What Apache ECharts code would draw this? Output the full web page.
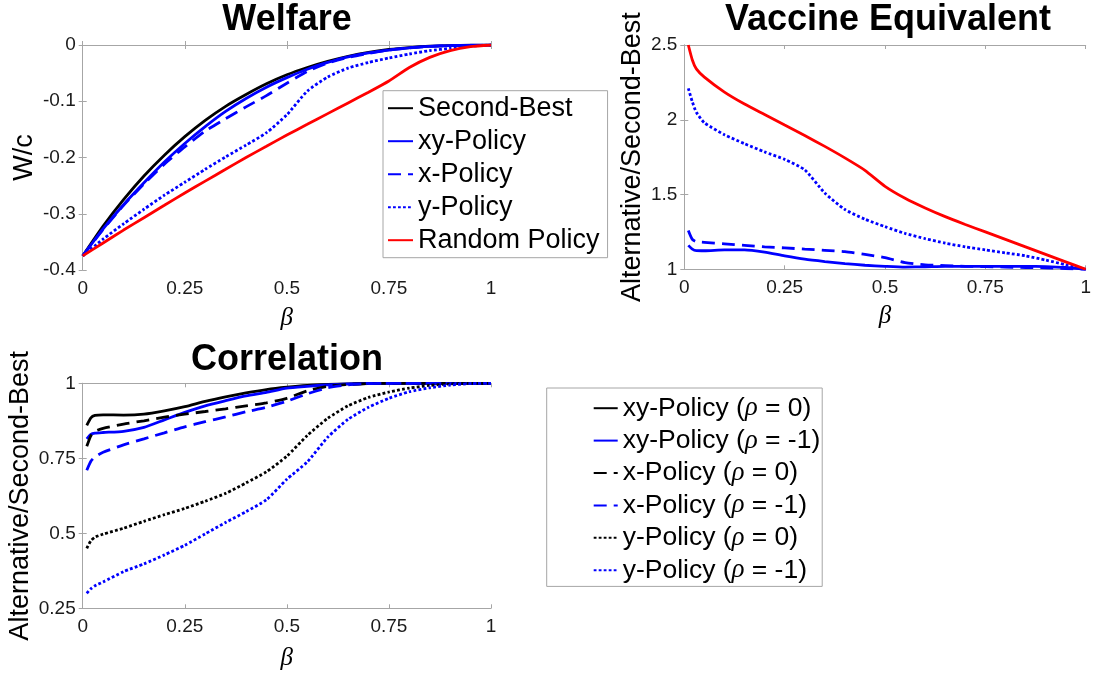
<!DOCTYPE html>
<html>
<head>
<meta charset="utf-8">
<script src="https://cdn.jsdelivr.net/npm/echarts@6/dist/echarts.min.js"></script>
<style>
html,body{margin:0;padding:0;background:#fff;}
#chart{width:1094px;height:675px;}
</style>
</head>
<body>
<div id="chart"></div>
<script>
// ---------- data ----------
const betaW = [0,0.05,0.1,0.15,0.2,0.25,0.3,0.35,0.4,0.45,0.5,0.55,0.6,0.65,0.7,0.75,0.8,0.85,0.9,0.95,1];
const welfareSecondBest = [-0.375,-0.322,-0.275,-0.233,-0.196,-0.163,-0.134,-0.109,-0.088,-0.069,-0.053,-0.040,-0.029,-0.020,-0.013,-0.008,-0.0045,-0.002,-0.001,-0.0002,0];
const welfareXY = [-0.375,-0.327,-0.284,-0.245,-0.208,-0.175,-0.145,-0.118,-0.095,-0.075,-0.058,-0.043,-0.031,-0.021,-0.014,-0.009,-0.005,-0.0025,-0.001,-0.0003,0];
const welfareX = [-0.375,-0.328,-0.285,-0.247,-0.212,-0.181,-0.153,-0.131,-0.110,-0.090,-0.068,-0.047,-0.032,-0.022,-0.015,-0.009,-0.005,-0.0025,-0.001,-0.0003,0];
const welfareY = [-0.375,-0.345,-0.318,-0.292,-0.267,-0.244,-0.221,-0.199,-0.178,-0.156,-0.124,-0.082,-0.057,-0.041,-0.031,-0.023,-0.016,-0.010,-0.006,-0.002,0];
const welfareRandom = [-0.375,-0.352,-0.329,-0.307,-0.285,-0.263,-0.242,-0.221,-0.200,-0.180,-0.160,-0.141,-0.122,-0.103,-0.084,-0.064,-0.040,-0.022,-0.010,-0.003,0];

const betaV = [0.01,0.02,0.03,0.05,0.1,0.15,0.2,0.25,0.3,0.35,0.4,0.45,0.5,0.55,0.6,0.65,0.7,0.75,0.8,0.85,0.9,0.95,1];
const vacXY = [1.16,1.135,1.125,1.124,1.13,1.13,1.115,1.09,1.068,1.052,1.038,1.027,1.02,1.015,1.017,1.02,1.02,1.02,1.02,1.02,1.018,1.012,1];
const vacX = [1.26,1.20,1.185,1.18,1.17,1.16,1.15,1.143,1.135,1.127,1.118,1.10,1.078,1.045,1.03,1.025,1.02,1.018,1.015,1.012,1.01,1.005,1];
const vacY = [2.21,2.12,2.05,1.98,1.90,1.84,1.785,1.735,1.665,1.51,1.40,1.335,1.285,1.24,1.205,1.175,1.15,1.13,1.11,1.09,1.062,1.03,1];
const vacRandom = [2.5,2.40,2.34,2.285,2.185,2.105,2.035,1.965,1.895,1.822,1.745,1.662,1.555,1.475,1.41,1.352,1.30,1.25,1.20,1.15,1.10,1.05,1];

const corrXY0 = [0.86,0.885,0.893,0.895,0.894,0.897,0.908,0.922,0.94,0.955,0.968,0.979,0.987,0.993,0.996,0.998,0.999,1,1,1,1,1,1];
const corrXY1 = [0.815,0.83,0.834,0.836,0.84,0.853,0.878,0.903,0.925,0.942,0.958,0.97,0.984,0.99,0.995,0.998,1,1,1,1,1,1,1];
const corrX0 = [0.79,0.825,0.84,0.85,0.864,0.875,0.887,0.897,0.906,0.915,0.925,0.935,0.95,0.975,0.99,0.996,0.999,1,1,1,1,1,1];
const corrX1 = [0.71,0.74,0.755,0.77,0.795,0.815,0.835,0.855,0.872,0.888,0.905,0.92,0.94,0.965,0.985,0.995,0.999,1,1,1,1,1,1];
const corrY0 = [0.45,0.475,0.487,0.497,0.517,0.54,0.562,0.583,0.607,0.633,0.668,0.705,0.757,0.826,0.883,0.925,0.953,0.971,0.984,0.993,0.998,1,1];
const corrY1 = [0.30,0.315,0.325,0.338,0.372,0.398,0.428,0.46,0.498,0.536,0.572,0.612,0.68,0.738,0.82,0.88,0.92,0.95,0.972,0.985,0.994,0.999,1];

const xTickValues = [0,0.25,0.5,0.75,1];
const xTickLabels = ['0','0.25','0.5','0.75','1'];
const welfareTickValues = [-0.4,-0.3,-0.2,-0.1,0];
const welfareTickLabels = ['-0.4','-0.3','-0.2','-0.1','0'];
const vacTickValues = [1,1.5,2,2.5];
const vacTickLabels = ['1','1.5','2','2.5'];
const corrTickValues = [0.25,0.5,0.75,1];
const corrTickLabels = ['0.25','0.5','0.75','1'];

const titles = ['Welfare','Vaccine Equivalent','Correlation'];
const yNames = ['W/c','Alternative/Second-Best','Alternative/Second-Best'];
const xName = 'β';
const legend1Names = ['Second-Best','xy-Policy','x-Policy','y-Policy','Random Policy'];
const legend2Names = ['xy-Policy (ρ = 0)','xy-Policy (ρ = -1)','x-Policy (ρ = 0)','x-Policy (ρ = -1)','y-Policy (ρ = 0)','y-Policy (ρ = -1)'];

// ---------- styling ----------
const SANS = 'Liberation Sans';
const BOX = '#a6a6a6';
const TXT = '#1a1a1a';
const LW = 2.8;
const DASH = [13,7];
const DOT = [2.8,2.2];
const BLUE = '#0000ff', RED = '#ff0000', BLACK = '#000000';

const grids = [
  {left: 82.7, top: 45, width: 408.3, height: 225},
  {left: 684.3, top: 45, width: 407.7, height: 224.3},
  {left: 82.7, top: 383.3, width: 408.3, height: 225}
];

function fmt(values, labels){
  return function(v){
    for (let i=0;i<values.length;i++){ if (Math.abs(v-values[i])<1e-9) return labels[i]; }
    return '';
  };
}

const yCfg = [
  {min:-0.4, max:0, interval:0.1, vals:welfareTickValues, labs:welfareTickLabels, gap:45},
  {min:1, max:2.5, interval:0.5, vals:vacTickValues, labs:vacTickLabels, gap:38.5},
  {min:0.25, max:1, interval:0.25, vals:corrTickValues, labs:corrTickLabels, gap:48.5}
];
const xGaps = [36, 35, 38];

const xAxes = [], yAxes = [];
for (let g=0; g<3; g++){
  xAxes.push({
    type:'value', gridIndex:g, min:0, max:1, interval:0.25, position:'bottom',
    name: xName, nameLocation:'middle', nameGap: xGaps[g],
    nameTextStyle:{fontFamily:'Liberation Serif', fontStyle:'italic', fontSize:25, color:'#000'},
    axisLine:{show:true, lineStyle:{color:BOX, width:1}},
    axisTick:{show:true, inside:true, length:4, lineStyle:{color:BOX}},
    splitLine:{show:false},
    axisLabel:{show:true, margin:9, fontFamily:SANS, fontSize:19, color:TXT, formatter: fmt(xTickValues, xTickLabels)}
  });
  yAxes.push({
    type:'value', gridIndex:g, min:yCfg[g].min, max:yCfg[g].max, interval:yCfg[g].interval, position:'left',
    name: yNames[g], nameLocation:'middle', nameGap: yCfg[g].gap, nameRotate:90,
    nameTextStyle:{fontFamily:SANS, fontSize:27, color:'#000'},
    axisLine:{show:true, lineStyle:{color:BOX, width:1}},
    axisTick:{show:true, inside:true, length:4, lineStyle:{color:BOX}},
    splitLine:{show:false},
    axisLabel:{show:true, margin:7, fontFamily:SANS, fontSize:19, color:TXT, formatter: fmt(yCfg[g].vals, yCfg[g].labs)}
  });
}
for (let g=0; g<3; g++){
  xAxes.push({
    type:'value', gridIndex:g, min:0, max:1, interval:0.25, position:'top',
    axisLine:{show:true, lineStyle:{color:BOX, width:1}},
    axisTick:{show:true, inside:true, length:4, lineStyle:{color:BOX}},
    splitLine:{show:false}, axisLabel:{show:false}
  });
  yAxes.push({
    type:'value', gridIndex:g, min:yCfg[g].min, max:yCfg[g].max, interval:yCfg[g].interval, position:'right',
    axisLine:{show:true, lineStyle:{color:BOX, width:1}},
    axisTick:{show:true, inside:true, length:4, lineStyle:{color:BOX}},
    splitLine:{show:false}, axisLabel:{show:false}
  });
}

function pairs(xs, ys){ return xs.map((x,i)=>[x, ys[i]]); }
function line(name, g, xs, ys, color, type){
  return {
    name, type:'line', xAxisIndex:g, yAxisIndex:g, data:pairs(xs, ys),
    symbol:'none', showSymbol:false, smooth:0.2, silent:true, animation:false,
    lineStyle:{color, width:LW, type, cap:'butt'}, itemStyle:{color}
  };
}

const series = [
  line('Second-Best',0,betaW,welfareSecondBest,BLACK,'solid'),
  line('xy-Policy',0,betaW,welfareXY,BLUE,'solid'),
  line('x-Policy',0,betaW,welfareX,BLUE,DASH),
  line('y-Policy',0,betaW,welfareY,BLUE,DOT),
  line('Random Policy',0,betaW,welfareRandom,RED,'solid'),

  line('xy-Policy',1,betaV,vacXY,BLUE,'solid'),
  line('x-Policy',1,betaV,vacX,BLUE,DASH),
  line('y-Policy',1,betaV,vacY,BLUE,DOT),
  line('Random Policy',1,betaV,vacRandom,RED,'solid'),

  line(legend2Names[0],2,betaV,corrXY0,BLACK,'solid'),
  line(legend2Names[1],2,betaV,corrXY1,BLUE,'solid'),
  line(legend2Names[2],2,betaV,corrX0,BLACK,DASH),
  line(legend2Names[3],2,betaV,corrX1,BLUE,DASH),
  line(legend2Names[4],2,betaV,corrY0,BLACK,DOT),
  line(legend2Names[5],2,betaV,corrY1,BLUE,DOT)
];

const chart = echarts.init(document.getElementById('chart'), null, {renderer:'canvas'});
chart.setOption({
  backgroundColor:'#fff',
  animation:false,
  grid: grids.map(g=>Object.assign({containLabel:false, show:false}, g)),
  xAxis: xAxes,
  yAxis: yAxes,
  legend: [
    {
      data: legend1Names, orient:'vertical', left:383, top:90.7,
      itemWidth:25, itemHeight:14, itemGap:0, padding:[1,8,1,4],
      borderColor:BOX, borderWidth:1, backgroundColor:'#fff', selectedMode:false,
      itemStyle:{opacity:0},
      textStyle:{fontFamily:SANS, fontSize:27, color:'#000', lineHeight:33}
    },
    {
      data: legend2Names, orient:'vertical', left:546.7, top:388,
      itemWidth:24, itemHeight:14, itemGap:0, padding:[4,2,0,46],
      borderColor:BOX, borderWidth:1, backgroundColor:'#fff', selectedMode:false,
      itemStyle:{opacity:0},
      formatter: function(name){
        const parts = name.split('ρ');
        return '{t|' + parts[0] + '}{g|ρ}{t|' + parts[1] + '}';
      },
      textStyle:{
        fontFamily:SANS, fontSize:26.5, color:'#000', lineHeight:32.4,
        rich:{
          t:{fontFamily:SANS, fontSize:26.5, color:'#000', lineHeight:32.4},
          g:{fontFamily:'Liberation Serif', fontStyle:'italic', fontSize:26.5, color:'#000', lineHeight:32.4}
        }
      }
    }
  ],
  graphic: [
    {type:'text', x:287, y:20, silent:true, style:{text:titles[0], font:'bold 36px "Liberation Sans"', fill:'#000', align:'center', verticalAlign:'middle'}},
    {type:'text', x:888, y:20, silent:true, style:{text:titles[1], font:'bold 36px "Liberation Sans"', fill:'#000', align:'center', verticalAlign:'middle'}},
    {type:'text', x:287, y:360, silent:true, style:{text:titles[2], font:'bold 36px "Liberation Sans"', fill:'#000', align:'center', verticalAlign:'middle'}}
  ],
  series
});
</script>
</body>
</html>
